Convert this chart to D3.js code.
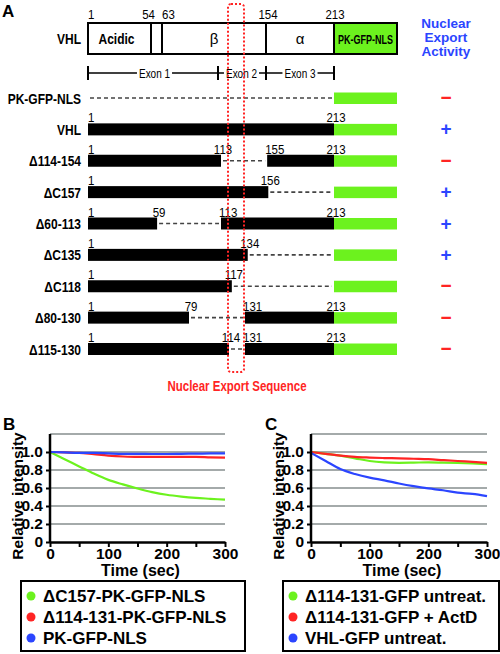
<!DOCTYPE html>
<html><head><meta charset="utf-8">
<script src="https://cdn.jsdelivr.net/npm/d3@7"></script>
<style>body{margin:0;background:#fff} svg{display:block}</style>
</head><body>
<svg id="c" width="500" height="654"></svg>
<script>
// ---------- DATA ----------
// Panel A
const domainNames = ["Acidic", "", "β", "α"];
const domainStart = [1, 54, 63, 154];
const domainEnd = [54, 63, 154, 213];
const headerTicks = [1, 54, 63, 154, 213];
const exonNames = ["Exon 1", "Exon 2", "Exon 3"];
const exonBounds = [1, 113, 154, 213];
const constructs = ["PK-GFP-NLS", "VHL", "Δ114-154", "ΔC157", "Δ60-113", "ΔC135", "ΔC118", "Δ80-130", "Δ115-130"];
const segments = [
  [],
  [[1, 213]],
  [[1, 113], [155, 213]],
  [[1, 156]],
  [[1, 59], [113, 213]],
  [[1, 134]],
  [[1, 117]],
  [[1, 79], [131, 213]],
  [[1, 114], [131, 213]]
];
const activity = ["-", "+", "-", "+", "+", "+", "-", "-", "-"];
const nesRange = [114, 131];

// Panels B and C
const times = [0, 25, 50, 75, 100, 125, 150, 175, 200, 225, 250, 275, 300];
const bNames = ["ΔC157-PK-GFP-NLS", "Δ114-131-PK-GFP-NLS", "PK-GFP-NLS"];
const bGreen = [1.0, 0.92, 0.84, 0.76, 0.69, 0.64, 0.595, 0.555, 0.525, 0.505, 0.49, 0.48, 0.47];
const bRed   = [1.0, 0.995, 0.99, 0.975, 0.96, 0.95, 0.945, 0.945, 0.945, 0.945, 0.945, 0.94, 0.937];
const bBlue  = [1.0, 0.995, 0.99, 0.99, 0.985, 0.98, 0.98, 0.978, 0.978, 0.98, 0.982, 0.984, 0.985];
const cNames = ["Δ114-131-GFP untreat.", "Δ114-131-GFP + ActD", "VHL-GFP untreat."];
const cGreen = [1.0, 0.98, 0.96, 0.93, 0.90, 0.885, 0.88, 0.882, 0.885, 0.882, 0.878, 0.872, 0.865];
const cRed   = [1.0, 0.98, 0.96, 0.945, 0.938, 0.933, 0.93, 0.925, 0.92, 0.91, 0.90, 0.89, 0.88];
const cBlue  = [0.99, 0.90, 0.81, 0.755, 0.715, 0.685, 0.65, 0.62, 0.595, 0.575, 0.548, 0.535, 0.51];
const yTicks = [0, 0.2, 0.4, 0.6, 0.8, 1.0];
const gridVals = [0.2, 0.4, 0.6, 0.8, 1.0, 1.2];
const xTickLabels = [0, 100, 200, 300];

// ---------- STYLE ----------
const SANS = "'Liberation Sans',Arial,sans-serif";
const GREEN = "#6cf21e", RED = "#ff2424", BLUE = "#2b45ff";
const svg = d3.select("#c");

// condensed text helper (no narrow font installed: squeeze horizontally)
function ntext(parent, x, y, str, size, opts = {}) {
  const sx = opts.sx || 0.8;
  const t = parent.append("text")
    .attr("transform", `translate(${x},${y}) scale(${sx},1)`)
    .attr("text-anchor", opts.anchor || "start")
    .attr("font-family", SANS).attr("font-size", size)
    .attr("font-weight", opts.bold ? "bold" : "normal")
    .attr("fill", opts.fill || "#000").text(str);
  return t;
}

// ---------- PANEL A ----------
const xA = d3.scaleLinear()
  .domain([1, 54, 63, 79, 113, 114, 131, 154, 213])
  .range([88, 151, 162, 189, 221, 229, 245, 266, 334]);
const gfpW = 63;
const yA = d3.scalePoint().domain(constructs).range([98, 349]);
const A = svg.append("g");

A.append("text").attr("x", 2).attr("y", 17).text("A")
  .attr("font-family", SANS).attr("font-weight", "bold").attr("font-size", 17);

// header
const hTop = 23, hH = 31;
domainNames.forEach((n, i) => {
  A.append("rect").attr("x", xA(domainStart[i])).attr("y", hTop)
    .attr("width", xA(domainEnd[i]) - xA(domainStart[i])).attr("height", hH)
    .attr("fill", "#fff").attr("stroke", "#000").attr("stroke-width", 2);
  if (n) {
    const cx = (xA(domainStart[i]) + xA(domainEnd[i])) / 2 - (i === 0 ? 3 : 0);
    if (i === 0) ntext(A, cx, hTop + hH / 2 + 5.5, n, 15, { anchor: "middle", bold: true });
    else A.append("text").attr("x", cx).attr("y", hTop + hH / 2 + 5).attr("text-anchor", "middle")
      .attr("font-family", SANS).attr("font-size", 15).text(n);
  }
});
A.append("rect").attr("x", xA(213)).attr("y", hTop).attr("width", gfpW).attr("height", hH)
  .attr("fill", GREEN).attr("stroke", "#000").attr("stroke-width", 2);
ntext(A, xA(213) + gfpW / 2, hTop + hH / 2 + 5, "PK-GFP-NLS", 12.5, { anchor: "middle", bold: true, sx: 0.72 });
ntext(A, 81, hTop + hH / 2 + 5.5, "VHL", 15, { anchor: "end", bold: true });
const hAnch = ["start", "end", "start", "middle", "middle"];
const hDx = [0, 4, 0, 2, 1];
headerTicks.forEach((v, i) => {
  ntext(A, xA(v) + hDx[i], 19, v, 13.5, { anchor: hAnch[i], sx: 0.85 });
});

// exon line
const exY = 73;
A.append("line").attr("x1", xA(exonBounds[0])).attr("x2", xA(exonBounds[3]))
  .attr("y1", exY).attr("y2", exY).attr("stroke", "#000").attr("stroke-width", 1.5);
exonBounds.forEach(v => {
  const xx = xA(v) - (v === 113 ? 3 : 0);
  A.append("line").attr("x1", xx).attr("x2", xx)
    .attr("y1", exY - 7).attr("y2", exY + 7).attr("stroke", "#000").attr("stroke-width", 2);
});
exonNames.forEach((n, i) => {
  const cx = (xA(exonBounds[i]) + xA(exonBounds[i + 1])) / 2 - (i === 1 ? 2 : 0);
  const t = ntext(A, cx, exY + 4.5, n, 12.5, { anchor: "middle" });
  const w = t.node().getBBox().width * 0.8;
  A.insert("rect", () => t.node()).attr("x", cx - w / 2 - 2).attr("y", exY - 2).attr("width", w + 4)
    .attr("height", 4).attr("fill", "#fff");
});

// rows
constructs.forEach((name, i) => {
  const yc = yA(name);
  const g = A.append("g");
  ntext(g, 81, yc + 5.5, name, 15, { anchor: "end", bold: true });
  const segs = segments[i];
  const gaps = [];
  if (segs.length === 0) gaps.push([1, 213]);
  segs.forEach((s, j) => {
    const next = segs[j + 1];
    if (next) gaps.push([s[1], next[0]]);
    else if (s[1] < 213) gaps.push([s[1], 213]);
  });
  gaps.forEach(gp => {
    g.append("line").attr("x1", xA(gp[0]) + 2).attr("x2", xA(gp[1]) - 2).attr("y1", yc).attr("y2", yc)
      .attr("stroke", "#444").attr("stroke-width", 1.6).attr("stroke-dasharray", "4,3");
  });
  segs.forEach(s => {
    g.append("rect").attr("x", xA(s[0])).attr("y", yc - 6).attr("width", xA(s[1]) - xA(s[0]))
      .attr("height", 12).attr("fill", "#000");
  });
  g.append("rect").attr("x", xA(213)).attr("y", yc - 5.5).attr("width", gfpW).attr("height", 11.5)
    .attr("fill", GREEN);
  // residue numbers: segment starts and ends
  segs.forEach(s => {
    if (s[0] === 1) ntext(g, xA(1), yc - 7, 1, 13.5, { anchor: "start", sx: 0.85 });
    else ntext(g, xA(s[0]) - 2, yc - 7, s[0], 13.5, { anchor: "start", sx: 0.85 });
    ntext(g, xA(s[1]) + 2, yc - 7, s[1], 13.5, { anchor: "middle", sx: 0.85 });
  });
  g.append("text").attr("x", 446).attr("y", yc + 6).attr("text-anchor", "middle")
    .attr("font-family", SANS).attr("font-weight", "bold").attr("font-size", 19)
    .attr("fill", activity[i] === "+" ? BLUE : RED).text(activity[i] === "+" ? "+" : "−");
});

// activity title
["Nuclear", "Export", "Activity"].forEach((w, i) => {
  A.append("text").attr("x", 446).attr("y", 28 + i * 14).attr("text-anchor", "middle")
    .attr("font-family", SANS).attr("font-weight", "bold").attr("font-size", 13.5)
    .attr("fill", BLUE).text(w);
});

// NES box
A.append("rect").attr("x", xA(nesRange[0]) - 1).attr("y", 4)
  .attr("width", xA(nesRange[1]) - xA(nesRange[0])).attr("height", 368).attr("rx", 3)
  .attr("fill", "none").attr("stroke", RED).attr("stroke-width", 2).attr("stroke-dasharray", "2,2");
ntext(A, 237, 391, "Nuclear Export Sequence", 14, { anchor: "middle", bold: true, fill: RED, sx: 0.82 });

// ---------- PANELS B & C ----------
function panel(letter, lx, x0, x1, series, names, legendBox) {
  const g = svg.append("g");
  const x = d3.scaleLinear().domain([0, 300]).range([x0, x1]);
  const y = d3.scaleLinear().domain([0, 1.2]).range([542, 434]);
  g.append("text").attr("x", lx).attr("y", 430).text(letter)
    .attr("font-family", SANS).attr("font-weight", "bold").attr("font-size", 17);
  gridVals.forEach(v => {
    g.append("line").attr("x1", x0).attr("x2", x1).attr("y1", y(v)).attr("y2", y(v))
      .attr("stroke", "#a4aaaa").attr("stroke-width", 2);
  });
  const line = d3.line().x((d, i) => x(times[i])).y(d => y(d)).curve(d3.curveMonotoneX);
  series.forEach(s => {
    g.append("path").attr("d", line(s.v)).attr("fill", "none").attr("stroke", s.c).attr("stroke-width", 2.2);
  });
  const yAxis = d3.axisLeft(y).tickValues(yTicks).tickSize(4).tickSizeOuter(0)
    .tickFormat(d => d === 0 ? "0" : d3.format(".1f")(d));
  const ya = g.append("g").attr("transform", `translate(${x0},0)`).call(yAxis);
  ya.select(".domain").remove();
  g.append("line").attr("x1", x0).attr("x2", x0).attr("y1", y(1.2)).attr("y2", y(0) + 1)
    .attr("stroke", "#000").attr("stroke-width", 2.5);
  const xAxis = d3.axisBottom(x).tickValues(d3.range(0, 301, 50)).tickSize(5).tickSizeOuter(0)
    .tickFormat(d => xTickLabels.includes(d) ? d : "");
  const xa = g.append("g").attr("transform", `translate(0,${y(0)})`).call(xAxis);
  xa.select(".domain").attr("stroke-width", 2.5);
  [ya, xa].forEach(a => {
    a.selectAll(".tick line").attr("stroke", "#000").attr("stroke-width", 2);
    a.selectAll("text").attr("font-family", SANS).attr("font-weight", "bold").attr("font-size", 15.5).attr("fill", "#000");
  });
  xa.selectAll("text").attr("dy", "0.55em");
  g.append("text").attr("x", (x0 + x1) / 2 + 3).attr("y", 576).attr("text-anchor", "middle")
    .attr("font-family", SANS).attr("font-weight", "bold").attr("font-size", 16).text("Time (sec)");
  g.append("text").attr("transform", `translate(${x0 - 27},496) rotate(-90)`).attr("text-anchor", "middle")
    .attr("font-family", SANS).attr("font-weight", "bold").attr("font-size", 15.5).text("Relative intensity");
  const [bx, by, bw, bh] = legendBox;
  g.append("rect").attr("x", bx).attr("y", by).attr("width", bw).attr("height", bh)
    .attr("fill", "#fff").attr("stroke", "#000").attr("stroke-width", 2);
  names.forEach((n, i) => {
    const cy = by + 15 + i * 21;
    g.append("circle").attr("cx", bx + 10).attr("cy", cy).attr("r", 4.5).attr("fill", series[i].c);
    g.append("text").attr("x", bx + 22).attr("y", cy + 6).attr("font-family", SANS)
      .attr("font-weight", "bold").attr("font-size", 17).text(n);
  });
}
panel("B", 3, 50, 225,
  [{ v: bGreen, c: GREEN }, { v: bRed, c: RED }, { v: bBlue, c: BLUE }], bNames, [21, 581, 224, 70]);
panel("C", 265, 311, 487,
  [{ v: cGreen, c: GREEN }, { v: cRed, c: RED }, { v: cBlue, c: BLUE }], cNames, [283, 581, 216, 70]);
</script>
</body></html>
